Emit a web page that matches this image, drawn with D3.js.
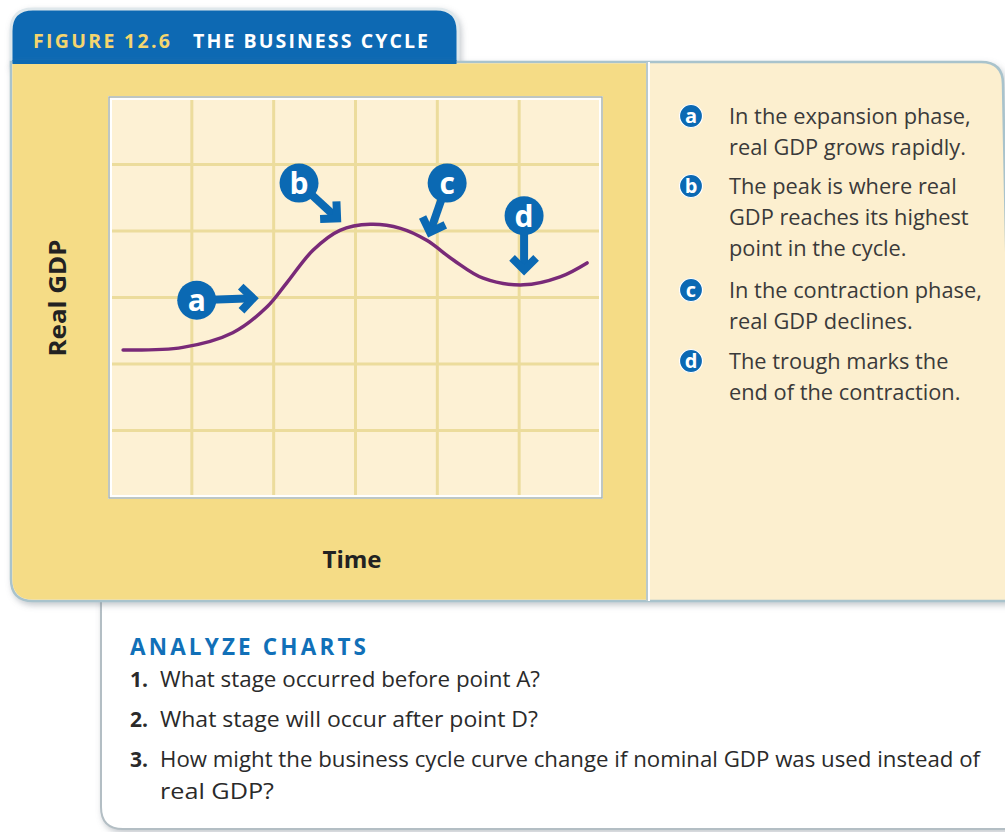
<!DOCTYPE html>
<html>
<head>
<meta charset="utf-8">
<script src="https://cdn.jsdelivr.net/npm/d3@7"></script>
<style>
  html, body { margin: 0; padding: 0; background: #ffffff; }
  svg { display: block; }
</style>
</head>
<body>
<div id="chart"></div>
<script>
// ---------------- DATA ----------------
const gridCols = [0, 1, 2, 3, 4, 5, 6];
const gridRows = [0, 1, 2, 3, 4, 5, 6];
const curveX = [0.16, 0.89, 1.5, 1.92, 2.16, 2.48, 2.81, 3.18, 3.55, 3.87, 4.2, 4.56, 5.05, 5.5, 5.83];
const curveY = [2.21, 2.25, 2.47, 2.86, 3.22, 3.71, 4.01, 4.1, 4.04, 3.86, 3.56, 3.29, 3.19, 3.31, 3.52];
const markerLabels = ["a", "b", "c", "d"];
const markerX = [1.06, 2.31, 4.12, 5.06];
const markerY = [2.96, 4.72, 4.72, 4.23];
const arrowTipX = [1.81, 2.82, 3.89, 5.06];
const arrowTipY = [2.99, 4.14, 3.91, 3.34];
const figureNumber = "FIGURE 12.6";
const figureTitle = "THE BUSINESS CYCLE";
const xAxisLabel = "Time";
const yAxisLabel = "Real GDP";
const legendLines = [
  ["In the expansion phase,", "real GDP grows rapidly."],
  ["The peak is where real", "GDP reaches its highest", "point in the cycle."],
  ["In the contraction phase,", "real GDP declines."],
  ["The trough marks the", "end of the contraction."]
];
const questionsTitle = "ANALYZE CHARTS";
const questionNumbers = ["1.", "2.", "3."];
const questionLines = [
  ["What stage occurred before point A?"],
  ["What stage will occur after point D?"],
  ["How might the business cycle curve change if nominal GDP was used instead of", "real GDP?"]
];

// ---------------- DRAW ----------------
const W = 1005, H = 832;
const svg = d3.select("#chart").append("svg").attr("width", W).attr("height", H);
const defs = svg.append("defs");
const sh = defs.append("filter").attr("id", "shadow").attr("x", "-10%").attr("y", "-10%").attr("width", "130%").attr("height", "130%");
sh.append("feDropShadow").attr("dx", 2).attr("dy", 3).attr("stdDeviation", 3).attr("flood-color", "#7a8490").attr("flood-opacity", 0.45);

const blue = "#0b69b3";
const frameStroke = "#a9c3cc";
const font = "'Open Sans', sans-serif";

// Bottom question box
const qb = { x0: 101, x1: 1012, y0: 585, y1: 829, r: 22 };
svg.append("path")
  .attr("d", `M${qb.x0},${qb.y0} L${qb.x1},${qb.y0} L${qb.x1},${qb.y1} L${qb.x0 + qb.r},${qb.y1} Q${qb.x0},${qb.y1} ${qb.x0},${qb.y1 - qb.r} Z`)
  .attr("fill", "#ffffff").attr("stroke", "#b3bec4").attr("stroke-width", 2)
  .attr("filter", "url(#shadow)");

// Tab
const tb = { x0: 11, x1: 458, y0: 9, y1: 66, r: 22 };
svg.append("path")
  .attr("d", `M${tb.x0},${tb.y1} L${tb.x0},${tb.y0 + tb.r} Q${tb.x0},${tb.y0} ${tb.x0 + tb.r},${tb.y0} L${tb.x1 - tb.r},${tb.y0} Q${tb.x1},${tb.y0} ${tb.x1},${tb.y0 + tb.r} L${tb.x1},${tb.y1} Z`)
  .attr("fill", blue).attr("stroke", "#dfe8ec").attr("stroke-width", 3)
  .attr("filter", "url(#shadow)");

// Main figure panel
const mp = { x0: 11, x1: 1003, y0: 62, y1: 601, r: 22, split: 646 };
svg.append("path")
  .attr("d", `M${mp.x0},${mp.y0} L${mp.x1 - mp.r},${mp.y0} Q${mp.x1},${mp.y0} ${mp.x1},${mp.y0 + mp.r} L${mp.x1 + 10},${mp.y1} L${mp.x0 + mp.r},${mp.y1} Q${mp.x0},${mp.y1} ${mp.x0},${mp.y1 - mp.r} Z`)
  .attr("fill", "#fcefcf").attr("stroke", frameStroke).attr("stroke-width", 2.5)
  .attr("filter", "url(#shadow)");
svg.append("path")
  .attr("d", `M${mp.x0 + 1.5},${mp.y0 + 1.5} L${mp.split},${mp.y0 + 1.5} L${mp.split},${mp.y1 - 1.5} L${mp.x0 + mp.r},${mp.y1 - 1.5} Q${mp.x0 + 1.5},${mp.y1 - 1.5} ${mp.x0 + 1.5},${mp.y1 - mp.r} Z`)
  .attr("fill", "#f5dc86");
svg.append("rect").attr("x", tb.x0 + 1.5).attr("y", tb.y1 - 6).attr("width", tb.x1 - tb.x0 - 3).attr("height", 4).attr("fill", blue);
svg.append("line").attr("x1", mp.split + 1).attr("x2", mp.split + 1).attr("y1", mp.y0).attr("y2", mp.y1)
  .attr("stroke", "#b9c9cc").attr("stroke-width", 2);
svg.append("line").attr("x1", mp.split + 3).attr("x2", mp.split + 3).attr("y1", mp.y0).attr("y2", mp.y1)
  .attr("stroke", "#ffffff").attr("stroke-width", 2);

// Tab title
svg.append("text").attr("x", 33).attr("y", 47.5)
  .attr("font-family", font).attr("font-weight", 700).attr("font-size", 19.5)
  .attr("textLength", 137).attr("lengthAdjust", "spacing")
  .attr("fill", "#f4d56e").text(figureNumber);
svg.append("text").attr("x", 193).attr("y", 47.5)
  .attr("font-family", font).attr("font-weight", 700).attr("font-size", 19.5)
  .attr("textLength", 235).attr("lengthAdjust", "spacing")
  .attr("fill", "#ffffff").text(figureTitle);

// Plot area
const plot = { x0: 110, x1: 601, y0: 98, y1: 497 };
const x = d3.scaleLinear().domain([0, 6]).range([plot.x0, plot.x1]);
const y = d3.scaleLinear().domain([0, 6]).range([plot.y1, plot.y0]);

svg.append("rect").attr("x", plot.x0).attr("y", plot.y0).attr("width", plot.x1 - plot.x0).attr("height", plot.y1 - plot.y0)
  .attr("fill", "#fdf1d4");
const g = svg.append("g");
g.selectAll("line.v").data(gridCols.slice(1, -1)).join("line").attr("class", "v")
  .attr("x1", d => x(d)).attr("x2", d => x(d)).attr("y1", plot.y0).attr("y2", plot.y1)
  .attr("stroke", "#ecdc9c").attr("stroke-width", 3);
g.selectAll("line.h").data(gridRows.slice(1, -1)).join("line").attr("class", "h")
  .attr("y1", d => y(d)).attr("y2", d => y(d)).attr("x1", plot.x0).attr("x2", plot.x1)
  .attr("stroke", "#ecdc9c").attr("stroke-width", 3);
svg.append("rect").attr("x", plot.x0).attr("y", plot.y0).attr("width", plot.x1 - plot.x0).attr("height", plot.y1 - plot.y0)
  .attr("fill", "none").attr("stroke", "#ffffff").attr("stroke-width", 4);
svg.append("rect").attr("x", plot.x0 - 1).attr("y", plot.y0 - 1).attr("width", plot.x1 - plot.x0 + 2).attr("height", plot.y1 - plot.y0 + 2)
  .attr("fill", "none").attr("stroke", "#a9b4b0").attr("stroke-width", 1.5);

// Curve
const pts = curveX.map((d, i) => [d, curveY[i]]);
const line = d3.line().x(d => x(d[0])).y(d => y(d[1])).curve(d3.curveCatmullRom.alpha(0.5));
svg.append("path").datum(pts).attr("d", line)
  .attr("fill", "none").attr("stroke", "#792a78").attr("stroke-width", 3.5).attr("stroke-linecap", "round");

// Markers with arrows
const mk = svg.append("g");
markerLabels.forEach((lab, i) => {
  const cx = x(markerX[i]), cy = y(markerY[i]);
  const tx = x(arrowTipX[i]), ty = y(arrowTipY[i]);
  const ang = Math.atan2(ty - cy, tx - cx);
  const head = 17;
  const bx = tx - Math.cos(ang) * 5, by = ty - Math.sin(ang) * 5;
  mk.append("line").attr("x1", cx).attr("y1", cy).attr("x2", bx).attr("y2", by)
    .attr("stroke", blue).attr("stroke-width", 8);
  const a1 = ang + Math.PI * 0.75, a2 = ang - Math.PI * 0.75;
  mk.append("path")
    .attr("d", `M${bx + Math.cos(a1) * head},${by + Math.sin(a1) * head} L${bx},${by} L${bx + Math.cos(a2) * head},${by + Math.sin(a2) * head}`)
    .attr("fill", "none").attr("stroke", blue).attr("stroke-width", 8).attr("stroke-linejoin", "miter").attr("stroke-miterlimit", 10);
  mk.append("circle").attr("cx", cx).attr("cy", cy).attr("r", 19.5).attr("fill", blue);
  mk.append("text").attr("x", cx).attr("y", cy).attr("dy", "0.36em").attr("text-anchor", "middle")
    .attr("font-family", font).attr("font-weight", 700).attr("font-size", 30)
    .attr("fill", "#ffffff").text(lab);
});

// Axis labels
svg.append("text").attr("x", 352).attr("y", 568).attr("text-anchor", "middle")
  .attr("font-family", font).attr("font-weight", 700).attr("font-size", 24)
  .attr("textLength", 59).attr("lengthAdjust", "spacingAndGlyphs")
  .attr("fill", "#222222").text(xAxisLabel);
svg.append("text").attr("transform", "translate(66,298) rotate(-90)").attr("text-anchor", "middle")
  .attr("font-family", font).attr("font-weight", 700).attr("font-size", 24)
  .attr("textLength", 117).attr("lengthAdjust", "spacingAndGlyphs")
  .attr("fill", "#222222").text(yAxisLabel);

// Legend on right panel
const legendStartY = [124, 194, 298, 369];
const legG = svg.append("g");
legendLines.forEach((lines, i) => {
  const by = legendStartY[i];
  legG.append("circle").attr("cx", 691).attr("cy", by - 8).attr("r", 11.5).attr("fill", blue)
    .attr("stroke", "#ffffff").attr("stroke-width", 1.2);
  legG.append("text").attr("x", 691).attr("y", by - 8).attr("dy", "0.36em").attr("text-anchor", "middle")
    .attr("font-family", font).attr("font-weight", 700).attr("font-size", 20)
    .attr("fill", "#ffffff").text(markerLabels[i]);
  lines.forEach((t, j) => {
    legG.append("text").attr("x", 729).attr("y", by + j * 31)
      .attr("font-family", font).attr("font-size", 21.8)
      .attr("fill", "#3a3a3a").text(t);
  });
});

// Questions
svg.append("text").attr("x", 130).attr("y", 655)
  .attr("font-family", font).attr("font-weight", 700).attr("font-size", 22.5)
  .attr("textLength", 236).attr("lengthAdjust", "spacing")
  .attr("fill", "#1170b8").text(questionsTitle);
const qStart = [687, 727, 767];
const qWidths = [[380], [378], [820, 114]];
questionLines.forEach((lines, i) => {
  svg.append("text").attr("x", 130).attr("y", qStart[i])
    .attr("font-family", font).attr("font-weight", 700).attr("font-size", 21)
    .attr("fill", "#2a2a2a").text(questionNumbers[i]);
  lines.forEach((t, j) => {
    svg.append("text").attr("x", 160).attr("y", qStart[i] + j * 32)
      .attr("font-family", font).attr("font-size", 21)
      .attr("textLength", qWidths[i][j]).attr("lengthAdjust", "spacingAndGlyphs")
      .attr("fill", "#2a2a2a").text(t);
  });
});
</script>
</body>
</html>
